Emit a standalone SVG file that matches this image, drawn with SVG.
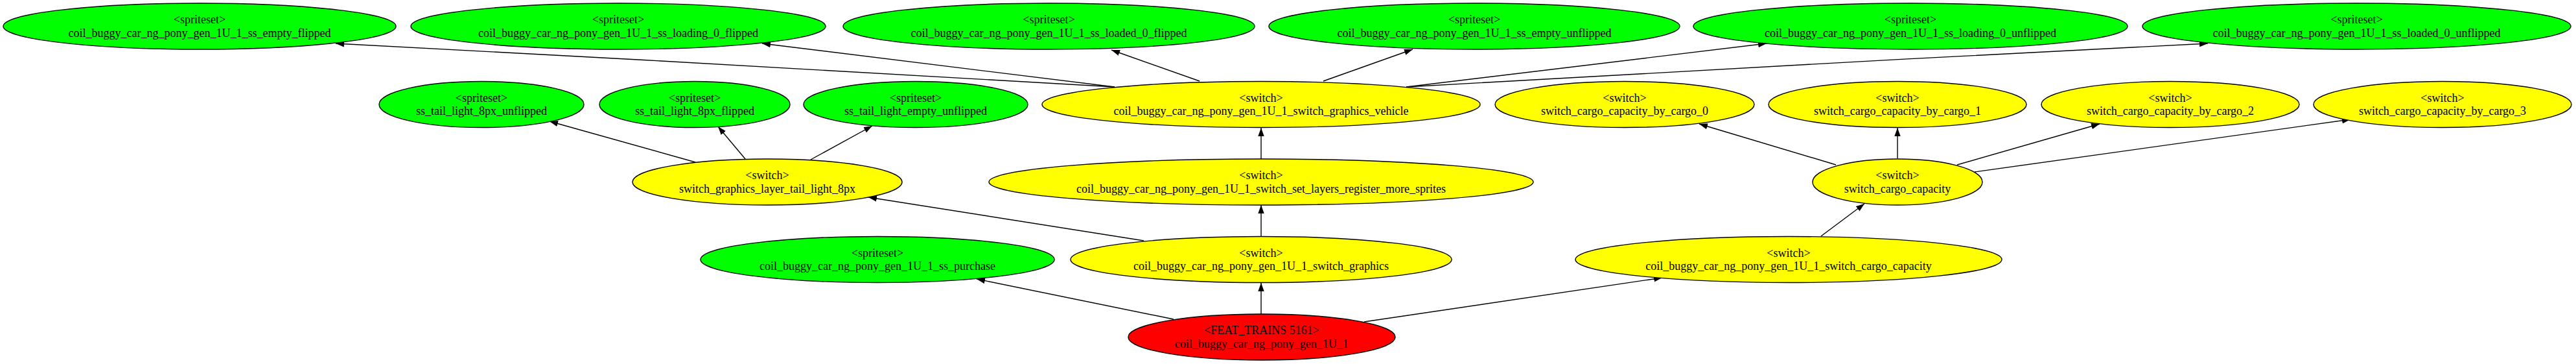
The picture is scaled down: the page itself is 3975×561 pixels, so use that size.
<svg xmlns="http://www.w3.org/2000/svg" width="3975" height="561" viewBox="0 0 3975 561">
<defs>
<marker id="arr" markerWidth="14" markerHeight="10" refX="13" refY="5" orient="auto" markerUnits="userSpaceOnUse"><path d="M0,0.3 L13,5 L0,9.7 z" fill="#000"/></marker>
</defs>
<style>
.n ellipse{stroke:#000;stroke-width:1.4}
.g ellipse{fill:#00ff00}
.y ellipse{fill:#ffff00}
.r ellipse{fill:#ff0000}
text{font-family:"Liberation Serif","Times New Roman",serif;font-size:18px;text-anchor:middle;fill:#000}
#edges path{fill:none;stroke:#000;stroke-width:1.4;marker-end:url(#arr)}
</style>
<rect width="3975" height="561" fill="#fff"/>
<g id="edges">
<path d="M1720,134 C1500,118 900,88 518,67"/>
<path d="M1720,134 C1500,106 1300,82 1176,67"/>
<path d="M1851,125 L1715,77"/>
<path d="M2042,125 L2180,76"/>
<path d="M2170,134 C2400,106 2600,82 2726,67"/>
<path d="M2170,134 C2400,118 3000,88 3407,67"/>
<path d="M1073,250 L848,187"/>
<path d="M1150,245 L1108,195"/>
<path d="M1251,246 L1346,194"/>
<path d="M1946,245 L1946,197"/>
<path d="M2833,254 L2622,191"/>
<path d="M2928,244 L2928,197"/>
<path d="M3020,254 L3240,191"/>
<path d="M3047,265 L3627,184"/>
<path d="M1765,371 L1340,304"/>
<path d="M1946,364 L1946,316"/>
<path d="M1811,492 L1507,430"/>
<path d="M1946,484 L1946,436"/>
<path d="M2105,496 L2565,428"/>
<path d="M2810,364 L2877,314"/>
</g>
<g id="ss_empty_flipped" class="n g"><ellipse cx="308" cy="40.5" rx="303" ry="35.5"/><text x="308" y="36">&lt;spriteset&gt;</text><text x="308" y="56.5">coil_buggy_car_ng_pony_gen_1U_1_ss_empty_flipped</text></g>
<g id="ss_loading_0_flipped" class="n g"><ellipse cx="954" cy="40.5" rx="320" ry="35.5"/><text x="954" y="36">&lt;spriteset&gt;</text><text x="954" y="56.5">coil_buggy_car_ng_pony_gen_1U_1_ss_loading_0_flipped</text></g>
<g id="ss_loaded_0_flipped" class="n g"><ellipse cx="1618.5" cy="40.5" rx="317.5" ry="35.5"/><text x="1618.5" y="36">&lt;spriteset&gt;</text><text x="1618.5" y="56.5">coil_buggy_car_ng_pony_gen_1U_1_ss_loaded_0_flipped</text></g>
<g id="ss_empty_unflipped" class="n g"><ellipse cx="2275" cy="40.5" rx="317" ry="35.5"/><text x="2275" y="36">&lt;spriteset&gt;</text><text x="2275" y="56.5">coil_buggy_car_ng_pony_gen_1U_1_ss_empty_unflipped</text></g>
<g id="ss_loading_0_unflipped" class="n g"><ellipse cx="2948" cy="40.5" rx="335" ry="35.5"/><text x="2948" y="36">&lt;spriteset&gt;</text><text x="2948" y="56.5">coil_buggy_car_ng_pony_gen_1U_1_ss_loading_0_unflipped</text></g>
<g id="ss_loaded_0_unflipped" class="n g"><ellipse cx="3636.5" cy="40.5" rx="330.5" ry="35.5"/><text x="3636.5" y="36">&lt;spriteset&gt;</text><text x="3636.5" y="56.5">coil_buggy_car_ng_pony_gen_1U_1_ss_loaded_0_unflipped</text></g>
<g id="ss_tail_light_8px_unflipped" class="n g"><ellipse cx="743" cy="161" rx="158" ry="35.5"/><text x="743" y="156.5">&lt;spriteset&gt;</text><text x="743" y="177">ss_tail_light_8px_unflipped</text></g>
<g id="ss_tail_light_8px_flipped" class="n g"><ellipse cx="1072" cy="161" rx="147" ry="35.5"/><text x="1072" y="156.5">&lt;spriteset&gt;</text><text x="1072" y="177">ss_tail_light_8px_flipped</text></g>
<g id="ss_tail_light_empty_unflipped" class="n g"><ellipse cx="1413" cy="161" rx="173" ry="35.5"/><text x="1413" y="156.5">&lt;spriteset&gt;</text><text x="1413" y="177">ss_tail_light_empty_unflipped</text></g>
<g id="switch_graphics_vehicle" class="n y"><ellipse cx="1946" cy="161" rx="338" ry="35.5"/><text x="1946" y="156.5">&lt;switch&gt;</text><text x="1946" y="177">coil_buggy_car_ng_pony_gen_1U_1_switch_graphics_vehicle</text></g>
<g id="switch_cargo_capacity_by_cargo_0" class="n y"><ellipse cx="2507" cy="161" rx="200" ry="35.5"/><text x="2507" y="156.5">&lt;switch&gt;</text><text x="2507" y="177">switch_cargo_capacity_by_cargo_0</text></g>
<g id="switch_cargo_capacity_by_cargo_1" class="n y"><ellipse cx="2928" cy="161" rx="199" ry="35.5"/><text x="2928" y="156.5">&lt;switch&gt;</text><text x="2928" y="177">switch_cargo_capacity_by_cargo_1</text></g>
<g id="switch_cargo_capacity_by_cargo_2" class="n y"><ellipse cx="3349" cy="161" rx="199" ry="35.5"/><text x="3349" y="156.5">&lt;switch&gt;</text><text x="3349" y="177">switch_cargo_capacity_by_cargo_2</text></g>
<g id="switch_cargo_capacity_by_cargo_3" class="n y"><ellipse cx="3769" cy="161" rx="199" ry="35.5"/><text x="3769" y="156.5">&lt;switch&gt;</text><text x="3769" y="177">switch_cargo_capacity_by_cargo_3</text></g>
<g id="switch_graphics_layer_tail_light_8px" class="n y"><ellipse cx="1184" cy="280.5" rx="208" ry="35.5"/><text x="1184" y="276">&lt;switch&gt;</text><text x="1184" y="296.5">switch_graphics_layer_tail_light_8px</text></g>
<g id="switch_set_layers_register_more_sprites" class="n y"><ellipse cx="1946" cy="280.5" rx="420" ry="35.5"/><text x="1946" y="276">&lt;switch&gt;</text><text x="1946" y="296.5">coil_buggy_car_ng_pony_gen_1U_1_switch_set_layers_register_more_sprites</text></g>
<g id="switch_cargo_capacity" class="n y"><ellipse cx="2928" cy="280.5" rx="131" ry="35.5"/><text x="2928" y="276">&lt;switch&gt;</text><text x="2928" y="296.5">switch_cargo_capacity</text></g>
<g id="ss_purchase" class="n g"><ellipse cx="1354" cy="400" rx="273" ry="35.5"/><text x="1354" y="395.5">&lt;spriteset&gt;</text><text x="1354" y="416">coil_buggy_car_ng_pony_gen_1U_1_ss_purchase</text></g>
<g id="switch_graphics" class="n y"><ellipse cx="1946" cy="400" rx="294" ry="35.5"/><text x="1946" y="395.5">&lt;switch&gt;</text><text x="1946" y="416">coil_buggy_car_ng_pony_gen_1U_1_switch_graphics</text></g>
<g id="switch_cargo_capacity_main" class="n y"><ellipse cx="2760" cy="400" rx="329" ry="35.5"/><text x="2760" y="395.5">&lt;switch&gt;</text><text x="2760" y="416">coil_buggy_car_ng_pony_gen_1U_1_switch_cargo_capacity</text></g>
<g id="feat_trains" class="n r"><ellipse cx="1947" cy="519.5" rx="206" ry="35.5"/><text x="1947" y="515">&lt;FEAT_TRAINS 5161&gt;</text><text x="1947" y="535.5">coil_buggy_car_ng_pony_gen_1U_1</text></g>
</svg>
